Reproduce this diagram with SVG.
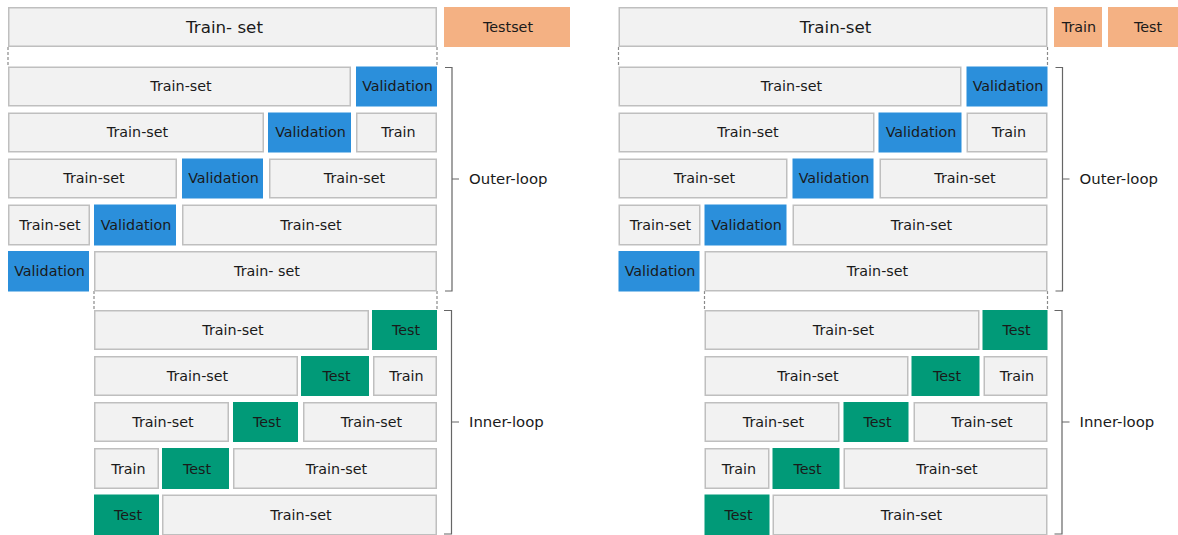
<svg xmlns="http://www.w3.org/2000/svg" width="1178" height="535" viewBox="0 0 1178 535">
<style>
text{font-family:"DejaVu Sans","Liberation Sans",sans-serif;font-size:14.3px;fill:#1a1a1a;text-anchor:middle}
.g{fill:#f2f2f2;stroke:#bfbfbf;stroke-width:1.5}
.v{fill:#2b8fdb}
.t{fill:#019a78}
.o{fill:#f4b183}
.big{font-size:16.7px}
.lbl{font-size:14.9px;text-anchor:start}
.dash{fill:none;stroke:#8a8a8a;stroke-width:1.2;stroke-dasharray:3,2}
.br{fill:none;stroke:#666;stroke-width:1.2}
</style>
<rect width="1178" height="535" fill="#fff"/>
<g id="connectors">
<path class="dash" d="M8,47V66M437,47V66M94,291V310M437,291V310"/>
<path class="br" d="M445,67.5H452V291H445M452,179H459"/>
<path class="br" d="M444,310.5H451.5V534H444M451.5,422H459"/>
<path class="dash" d="M618.5,47V66M1047.5,47V66M704.5,291V310M1047.5,291V310"/>
<path class="br" d="M1055.5,67.5H1062.5V291H1055.5M1062.5,179H1069.5"/>
<path class="br" d="M1054.5,310.5H1062V534H1054.5M1062,422H1069.5"/>
</g>
<g id="left">
<g id="L-top-train"><rect class="g" x="8.75" y="7.75" width="427.5" height="38.5"/><text class="big" x="224.5" y="33">Train- set</text></g>
<g id="L-top-test"><rect class="o" x="444" y="7" width="126" height="40"/><text x="508" y="32">Testset</text></g>
<g id="L-o1a"><rect class="g" x="8.75" y="67.25" width="341.5" height="38.5"/><text x="181" y="91.3">Train-set</text></g>
<g id="L-o1b"><rect class="v" x="356" y="66.5" width="81" height="40"/><text x="397.5" y="91.3">Validation</text></g>
<g id="L-o2a"><rect class="g" x="8.75" y="113.25" width="254.5" height="38.5"/><text x="137.5" y="137.3">Train-set</text></g>
<g id="L-o2b"><rect class="v" x="268" y="112.5" width="83" height="40"/><text x="310.5" y="137.3">Validation</text></g>
<g id="L-o2c"><rect class="g" x="356.75" y="113.25" width="79.5" height="38.5"/><text x="398.5" y="137.3">Train</text></g>
<g id="L-o3a"><rect class="g" x="8.75" y="159.25" width="167.5" height="38.5"/><text x="94" y="183.3">Train-set</text></g>
<g id="L-o3b"><rect class="v" x="182" y="158.5" width="81" height="40"/><text x="223.5" y="183.3">Validation</text></g>
<g id="L-o3c"><rect class="g" x="269.75" y="159.25" width="166.5" height="38.5"/><text x="354.5" y="183.3">Train-set</text></g>
<g id="L-o4a"><rect class="g" x="8.75" y="205.25" width="80.5" height="39.5"/><text x="50" y="229.8">Train-set</text></g>
<g id="L-o4b"><rect class="v" x="94" y="204.5" width="82" height="41"/><text x="136" y="229.8">Validation</text></g>
<g id="L-o4c"><rect class="g" x="182.75" y="205.25" width="253.5" height="39.5"/><text x="311" y="229.8">Train-set</text></g>
<g id="L-o5a"><rect class="v" x="8" y="251" width="81" height="40.5"/><text x="49.5" y="276">Validation</text></g>
<g id="L-o5b"><rect class="g" x="94.75" y="251.75" width="341.5" height="39"/><text x="267" y="276">Train- set</text></g>
<g id="L-i1a"><rect class="g" x="94.75" y="310.75" width="273.5" height="38.5"/><text x="233" y="335">Train-set</text></g>
<g id="L-i1b"><rect class="t" x="372" y="310" width="65" height="40"/><text x="406" y="335">Test</text></g>
<g id="L-i2a"><rect class="g" x="94.75" y="356.75" width="202.5" height="38.5"/><text x="197.5" y="381">Train-set</text></g>
<g id="L-i2b"><rect class="t" x="301" y="356" width="68" height="40"/><text x="336.5" y="381">Test</text></g>
<g id="L-i2c"><rect class="g" x="373.75" y="356.75" width="62.5" height="38.5"/><text x="406.5" y="381">Train</text></g>
<g id="L-i3a"><rect class="g" x="94.75" y="402.75" width="133.5" height="38.5"/><text x="163" y="427">Train-set</text></g>
<g id="L-i3b"><rect class="t" x="233" y="402" width="65" height="40"/><text x="267" y="427">Test</text></g>
<g id="L-i3c"><rect class="g" x="303.75" y="402.75" width="132.5" height="38.5"/><text x="371.5" y="427">Train-set</text></g>
<g id="L-i4a"><rect class="g" x="94.75" y="448.75" width="63.5" height="39.5"/><text x="128.5" y="473.5">Train</text></g>
<g id="L-i4b"><rect class="t" x="162" y="448" width="67" height="41"/><text x="197" y="473.5">Test</text></g>
<g id="L-i4c"><rect class="g" x="233.75" y="448.75" width="202.5" height="39.5"/><text x="336.5" y="473.5">Train-set</text></g>
<g id="L-i5a"><rect class="t" x="94" y="494.5" width="65" height="41"/><text x="128" y="520">Test</text></g>
<g id="L-i5b"><rect class="g" x="162.75" y="495.25" width="273.5" height="39.5"/><text x="301" y="520">Train-set</text></g>
<g id="L-outer-label"><text class="lbl" x="469" y="184">Outer-loop</text></g>
<g id="L-inner-label"><text class="lbl" x="469" y="427">Inner-loop</text></g>
</g>
<g id="right" transform="translate(610.5,0)">
<g id="R-top-train"><rect class="g" x="8.75" y="7.75" width="427.5" height="38.5"/><text class="big" x="225" y="33">Train-set</text></g>
<g id="R-o1a"><rect class="g" x="8.75" y="67.25" width="341.5" height="38.5"/><text x="181" y="91.3">Train-set</text></g>
<g id="R-o1b"><rect class="v" x="356" y="66.5" width="81" height="40"/><text x="397.5" y="91.3">Validation</text></g>
<g id="R-o2a"><rect class="g" x="8.75" y="113.25" width="254.5" height="38.5"/><text x="137.5" y="137.3">Train-set</text></g>
<g id="R-o2b"><rect class="v" x="268" y="112.5" width="83" height="40"/><text x="310.5" y="137.3">Validation</text></g>
<g id="R-o2c"><rect class="g" x="356.75" y="113.25" width="79.5" height="38.5"/><text x="398.5" y="137.3">Train</text></g>
<g id="R-o3a"><rect class="g" x="8.75" y="159.25" width="167.5" height="38.5"/><text x="94" y="183.3">Train-set</text></g>
<g id="R-o3b"><rect class="v" x="182" y="158.5" width="81" height="40"/><text x="223.5" y="183.3">Validation</text></g>
<g id="R-o3c"><rect class="g" x="269.75" y="159.25" width="166.5" height="38.5"/><text x="354.5" y="183.3">Train-set</text></g>
<g id="R-o4a"><rect class="g" x="8.75" y="205.25" width="80.5" height="39.5"/><text x="50" y="229.8">Train-set</text></g>
<g id="R-o4b"><rect class="v" x="94" y="204.5" width="82" height="41"/><text x="136" y="229.8">Validation</text></g>
<g id="R-o4c"><rect class="g" x="182.75" y="205.25" width="253.5" height="39.5"/><text x="311" y="229.8">Train-set</text></g>
<g id="R-o5a"><rect class="v" x="8" y="251" width="81" height="40.5"/><text x="49.5" y="276">Validation</text></g>
<g id="R-o5b"><rect class="g" x="94.75" y="251.75" width="341.5" height="39"/><text x="267" y="276">Train-set</text></g>
<g id="R-i1a"><rect class="g" x="94.75" y="310.75" width="273.5" height="38.5"/><text x="233" y="335">Train-set</text></g>
<g id="R-i1b"><rect class="t" x="372" y="310" width="65" height="40"/><text x="406" y="335">Test</text></g>
<g id="R-i2a"><rect class="g" x="94.75" y="356.75" width="202.5" height="38.5"/><text x="197.5" y="381">Train-set</text></g>
<g id="R-i2b"><rect class="t" x="301" y="356" width="68" height="40"/><text x="336.5" y="381">Test</text></g>
<g id="R-i2c"><rect class="g" x="373.75" y="356.75" width="62.5" height="38.5"/><text x="406.5" y="381">Train</text></g>
<g id="R-i3a"><rect class="g" x="94.75" y="402.75" width="133.5" height="38.5"/><text x="163" y="427">Train-set</text></g>
<g id="R-i3b"><rect class="t" x="233" y="402" width="65" height="40"/><text x="267" y="427">Test</text></g>
<g id="R-i3c"><rect class="g" x="303.75" y="402.75" width="132.5" height="38.5"/><text x="371.5" y="427">Train-set</text></g>
<g id="R-i4a"><rect class="g" x="94.75" y="448.75" width="63.5" height="39.5"/><text x="128.5" y="473.5">Train</text></g>
<g id="R-i4b"><rect class="t" x="162" y="448" width="67" height="41"/><text x="197" y="473.5">Test</text></g>
<g id="R-i4c"><rect class="g" x="233.75" y="448.75" width="202.5" height="39.5"/><text x="336.5" y="473.5">Train-set</text></g>
<g id="R-i5a"><rect class="t" x="94" y="494.5" width="65" height="41"/><text x="128" y="520">Test</text></g>
<g id="R-i5b"><rect class="g" x="162.75" y="495.25" width="273.5" height="39.5"/><text x="301" y="520">Train-set</text></g>
<g id="R-outer-label"><text class="lbl" x="469" y="184">Outer-loop</text></g>
<g id="R-inner-label"><text class="lbl" x="469" y="427">Inner-loop</text></g>
</g>
<g id="R-top-train-small"><rect class="o" x="1054" y="7" width="48" height="40"/><text x="1079" y="32">Train</text></g>
<g id="R-top-test"><rect class="o" x="1108" y="7" width="78" height="40"/><text x="1148" y="32">Test</text></g>
</svg>
